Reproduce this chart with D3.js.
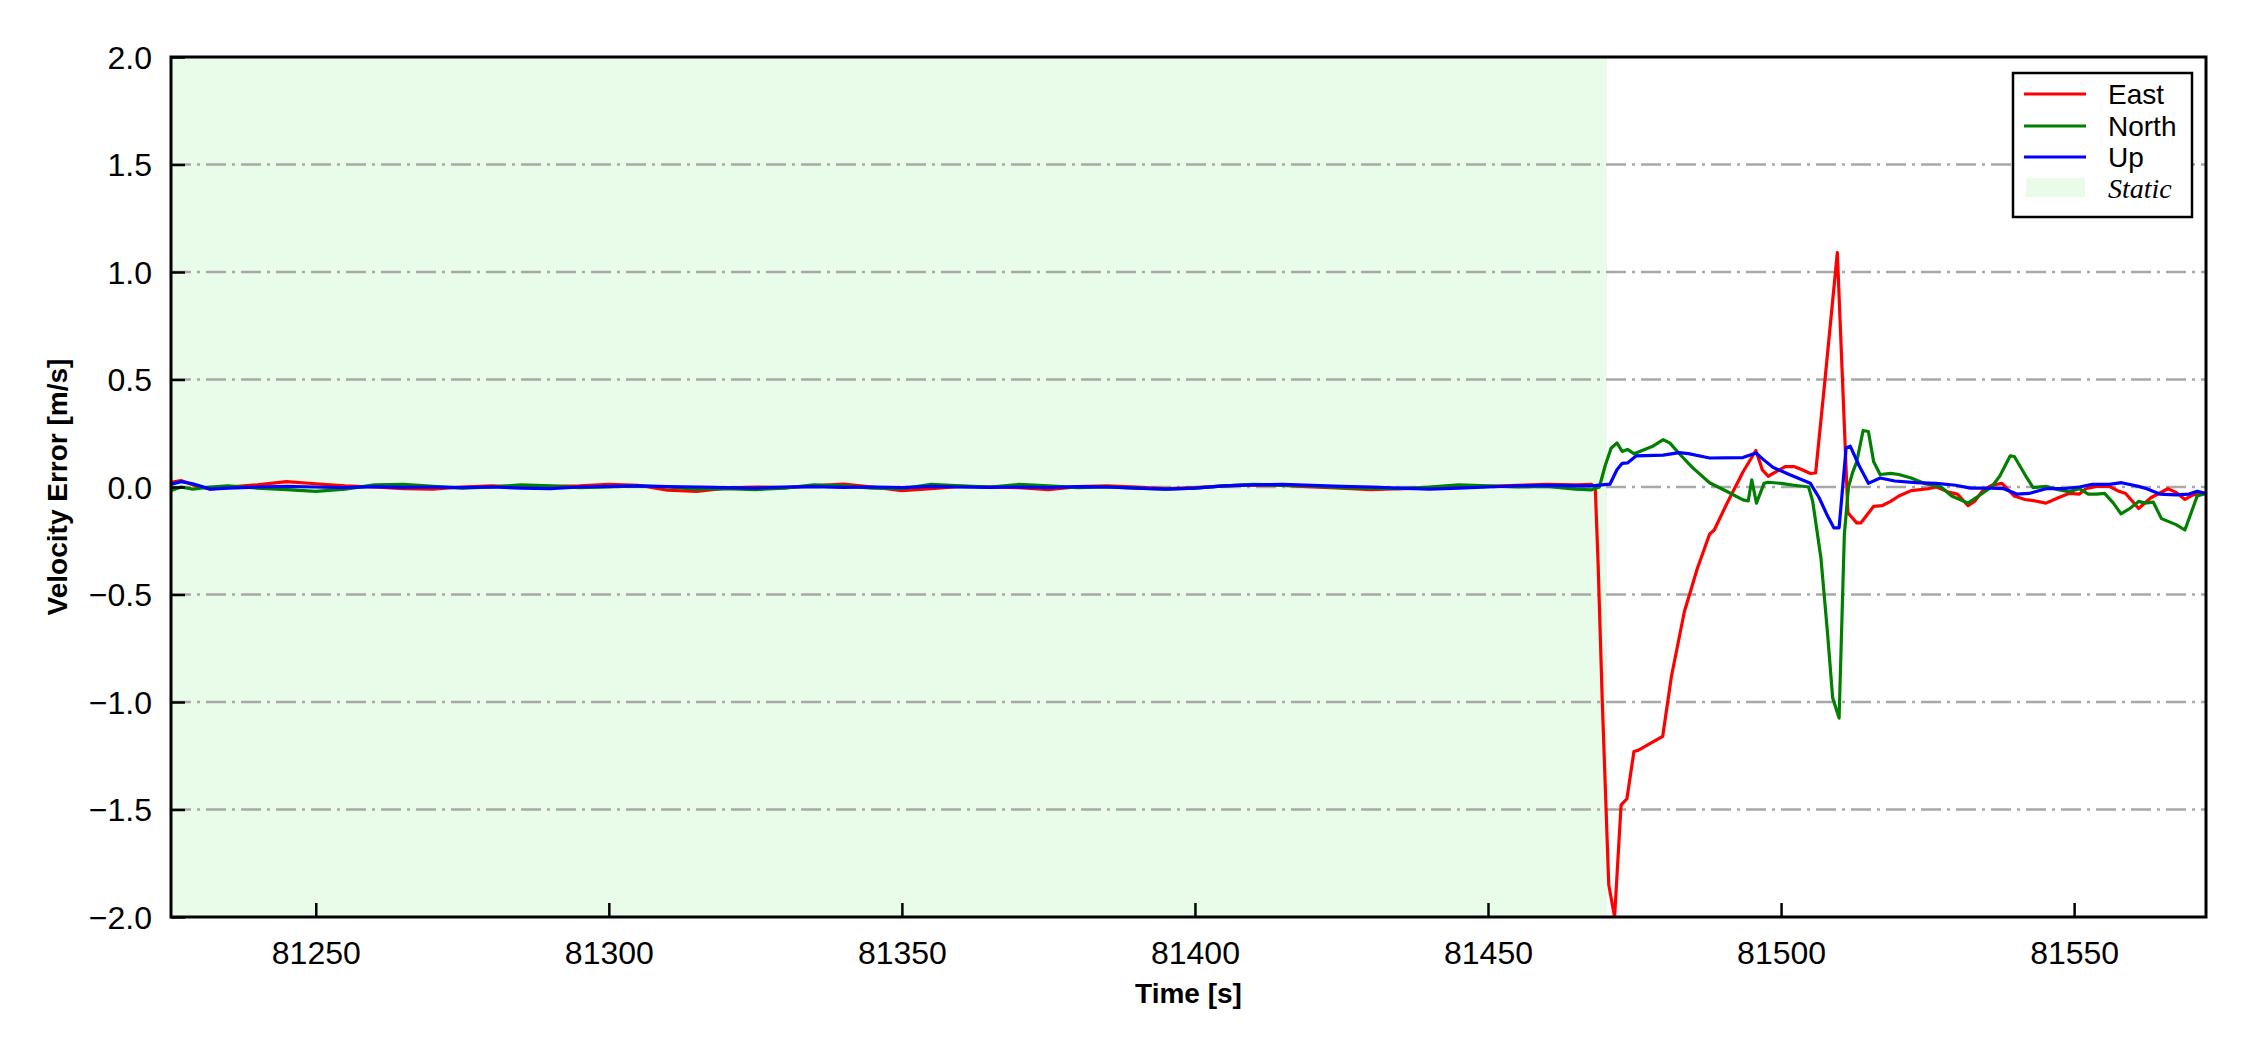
<!DOCTYPE html>
<html>
<head>
<meta charset="utf-8">
<script src="https://cdn.jsdelivr.net/npm/d3@7"></script>
<style>
  html, body { margin: 0; padding: 0; background: #fff; }
  svg { display: block; }
</style>
</head>
<body>
<svg id="chart" width="2250" height="1050"></svg>
<script>
// ---------------- DATA ----------------
const seriesNames = ["East", "North", "Up"];
const seriesColors = ["#ff0000", "#008000", "#0000ff"];
const staticLabel = "Static";
const staticRange = [81225.3, 81470.3];
const xTicks = [81250, 81300, 81350, 81400, 81450, 81500, 81550];
const yTicks = [-2.0, -1.5, -1.0, -0.5, 0.0, 0.5, 1.0, 1.5, 2.0];

// static period (shared time stamps)
const staticTime = [81225, 81227, 81229, 81232, 81235, 81240, 81245, 81250, 81255, 81260, 81265, 81270, 81275, 81280, 81285, 81290, 81295, 81300, 81305, 81310, 81315, 81320, 81325, 81330, 81335, 81340, 81345, 81350, 81355, 81360, 81365, 81370, 81375, 81380, 81385, 81390, 81395, 81400, 81405, 81410, 81415, 81420, 81425, 81430, 81435, 81440, 81445, 81450, 81455, 81460, 81465];
const eastStatic  = [0.02, 0.03, 0.01, -0.01, 0.0, 0.01, 0.025, 0.015, 0.005, 0.0, -0.008, -0.01, 0.0, 0.005, 0.0, 0.003, 0.005, 0.012, 0.008, -0.015, -0.02, -0.005, 0.0, -0.003, 0.005, 0.013, 0.0, -0.017, -0.008, 0.003, 0.0, -0.003, -0.012, 0.002, 0.005, 0.0, -0.008, -0.003, 0.005, 0.01, 0.008, 0.0, -0.005, -0.012, -0.008, -0.005, 0.0, 0.003, 0.008, 0.012, 0.01];
const northStatic = [-0.02, 0.0, -0.01, 0.0, 0.005, -0.005, -0.012, -0.02, -0.01, 0.01, 0.012, 0.003, -0.005, 0.0, 0.01, 0.005, -0.003, 0.0, 0.005, 0.0, -0.01, -0.008, -0.012, -0.005, 0.01, 0.005, -0.005, -0.008, 0.012, 0.005, 0.0, 0.012, 0.005, -0.003, 0.0, -0.005, -0.01, -0.005, 0.005, 0.012, 0.008, 0.005, -0.003, -0.005, -0.008, 0.0, 0.01, 0.005, 0.0, 0.003, -0.01];
const upStatic    = [0.01, 0.025, 0.015, -0.01, -0.005, 0.0, 0.003, 0.0, -0.003, 0.002, -0.002, 0.0, -0.003, 0.0, -0.005, -0.008, 0.0, 0.003, 0.005, 0.002, 0.0, -0.003, -0.005, 0.0, 0.002, -0.002, 0.0, -0.003, 0.003, 0.0, -0.002, 0.0, -0.003, 0.002, 0.0, -0.005, -0.01, -0.005, 0.005, 0.01, 0.012, 0.008, 0.003, 0.0, -0.005, -0.01, -0.005, 0.0, 0.005, 0.008, 0.005];

// dynamic period
const eastTime  = [81467.7, 81468.3, 81468.8, 81469.5, 81470.6, 81471.6, 81472.7, 81473.7, 81474.9, 81475.6, 81479.8, 81481.3, 81483.5, 81485.7, 81487.8, 81488.6, 81490.7, 81493.5, 81495.7, 81496.8, 81497.8, 81500.7, 81502.2, 81503.6, 81505.0, 81505.9, 81507.5, 81509.6, 81511.4, 81512.9, 81513.6, 81515.8, 81517.2, 81518.7, 81520.1, 81522.2, 81525.1, 81526.5, 81528.7, 81530.1, 81531.9, 81533.0, 81534.4, 81535.9, 81537.7, 81539.8, 81541.6, 81543.0, 81545.2, 81547.3, 81549.1, 81550.9, 81552.0, 81553.8, 81556.0, 81557.4, 81558.8, 81561.0, 81563.1, 81566.0, 81567.4, 81568.9, 81570.3, 81572.5];
const eastValue = [0.012, 0.0, -0.37, -1.0, -1.85, -2.0, -1.48, -1.45, -1.23, -1.225, -1.16, -0.88, -0.58, -0.38, -0.22, -0.2, -0.08, 0.07, 0.17, 0.08, 0.05, 0.095, 0.095, 0.08, 0.063, 0.065, 0.5, 1.09, -0.12, -0.167, -0.167, -0.09, -0.087, -0.067, -0.042, -0.017, -0.008, 0.0, -0.025, -0.033, -0.087, -0.067, -0.017, 0.008, 0.017, -0.042, -0.058, -0.063, -0.075, -0.05, -0.03, -0.033, -0.008, 0.003, 0.003, -0.017, -0.03, -0.1, -0.05, -0.008, -0.025, -0.058, -0.037, -0.03];

const northTime  = [81467.7, 81469.0, 81470.0, 81471.0, 81472.0, 81472.9, 81473.8, 81474.9, 81476.3, 81478.0, 81479.9, 81481.0, 81482.8, 81484.9, 81487.8, 81490.7, 81493.5, 81494.4, 81495.0, 81495.8, 81497.1, 81497.8, 81500.0, 81502.2, 81504.7, 81505.4, 81506.8, 81507.9, 81508.8, 81509.9, 81510.8, 81511.5, 81512.2, 81512.9, 81514.0, 81514.9, 81515.8, 81516.9, 81518.7, 81520.1, 81522.2, 81524.4, 81527.3, 81529.1, 81531.9, 81533.7, 81535.9, 81537.3, 81539.1, 81539.8, 81541.6, 81543.0, 81545.2, 81547.3, 81549.1, 81550.9, 81552.4, 81553.8, 81555.2, 81556.7, 81558.0, 81559.5, 81561.0, 81562.1, 81563.5, 81564.9, 81567.4, 81568.9, 81571.0, 81572.5];
const northValue = [-0.013, 0.0, 0.1, 0.18, 0.205, 0.165, 0.175, 0.155, 0.17, 0.188, 0.22, 0.205, 0.15, 0.09, 0.02, -0.02, -0.06, -0.065, 0.033, -0.075, 0.017, 0.022, 0.017, 0.008, 0.0, -0.067, -0.33, -0.67, -0.98, -1.075, -0.22, 0.0, 0.067, 0.117, 0.263, 0.258, 0.117, 0.058, 0.063, 0.058, 0.042, 0.017, 0.0, -0.042, -0.075, -0.042, 0.0, 0.05, 0.145, 0.142, 0.058, -0.003, 0.003, -0.012, -0.022, -0.008, -0.033, -0.033, -0.03, -0.075, -0.125, -0.1, -0.067, -0.075, -0.07, -0.147, -0.175, -0.2, -0.042, -0.03];

const upTime  = [81467.7, 81470.8, 81472.0, 81472.9, 81473.8, 81475.3, 81479.9, 81482.6, 81484.2, 81487.8, 81493.5, 81495.7, 81497.1, 81498.6, 81501.4, 81505.0, 81506.5, 81507.9, 81509.0, 81509.9, 81511.1, 81511.8, 81513.3, 81514.9, 81516.9, 81519.4, 81523.0, 81526.5, 81529.8, 81532.3, 81535.9, 81538.0, 81540.2, 81542.3, 81545.2, 81548.1, 81550.9, 81553.1, 81556.0, 81558.1, 81561.0, 81562.4, 81564.6, 81567.4, 81569.6, 81571.0, 81572.5];
const upValue = [0.005, 0.013, 0.08, 0.11, 0.112, 0.145, 0.148, 0.16, 0.155, 0.135, 0.137, 0.158, 0.125, 0.092, 0.058, 0.017, -0.05, -0.133, -0.19, -0.19, 0.183, 0.19, 0.1, 0.017, 0.042, 0.028, 0.02, 0.017, 0.008, -0.005, -0.005, -0.008, -0.033, -0.03, -0.008, -0.008, 0.0, 0.012, 0.012, 0.02, 0.003, -0.008, -0.033, -0.037, -0.033, -0.02, -0.03];

// ---------------- LAYOUT ----------------
const W = 2250, H = 1050;
const margin = { left: 171, top: 57, right: 44, bottom: 133 };
const pw = W - margin.left - margin.right;   // 2035
const ph = H - margin.top - margin.bottom;   // 860

const svg = d3.select("#chart");
const x = d3.scaleLinear().domain([81225.3, 81572.5]).range([margin.left, margin.left + pw]);
const y = d3.scaleLinear().domain([-2, 2]).range([margin.top + ph, margin.top]);

const zip = (t, v) => t.map((tt, i) => [tt, v[i]]);
const series = [
  zip(staticTime, eastStatic).concat(zip(eastTime, eastValue)),
  zip(staticTime, northStatic).concat(zip(northTime, northValue)),
  zip(staticTime, upStatic).concat(zip(upTime, upValue))
];

svg.append("defs").append("clipPath").attr("id", "plotclip")
  .append("rect").attr("x", margin.left).attr("y", margin.top).attr("width", pw).attr("height", ph);

// static shading
svg.append("rect")
  .attr("x", x(staticRange[0])).attr("y", margin.top)
  .attr("width", x(staticRange[1]) - x(staticRange[0])).attr("height", ph)
  .attr("fill", "#e9fce9");

// grid lines
svg.append("g").selectAll("line").data(yTicks.filter(d => d > -2 && d < 2)).join("line")
  .attr("x1", margin.left).attr("x2", margin.left + pw)
  .attr("y1", d => y(d)).attr("y2", d => y(d))
  .attr("stroke", "#a8a8a8").attr("stroke-width", 2.5)
  .attr("stroke-dasharray", "20,6,3,6");

// data lines
const line = d3.line().x(d => x(d[0])).y(d => y(d[1]));
const lg = svg.append("g").attr("clip-path", "url(#plotclip)");
series.forEach((s, i) => {
  lg.append("path").datum(s).attr("d", line)
    .attr("fill", "none").attr("stroke", seriesColors[i])
    .attr("stroke-width", 3.2).attr("stroke-linejoin", "round");
});

// axes (ticks inward)
const xAxis = d3.axisBottom(x).tickValues(xTicks).tickSize(-14).tickPadding(24).tickFormat(d3.format("d"));
const yAxis = d3.axisLeft(y).tickValues(yTicks).tickSize(-14).tickPadding(19).tickFormat(d3.format(".1f"));

const gx = svg.append("g").attr("transform", `translate(0,${margin.top + ph})`).call(xAxis);
const gy = svg.append("g").attr("transform", `translate(${margin.left},0)`).call(yAxis);
[gx, gy].forEach(g => {
  g.select(".domain").remove();
  g.selectAll(".tick line").attr("stroke", "#000").attr("stroke-width", 2.5);
  g.selectAll(".tick text").attr("fill", "#000")
    .style("font-family", "'Liberation Sans', Arial, sans-serif").style("font-size", "32px");
});
gy.selectAll(".tick text").attr("dy", "0.35em");

// frame
svg.append("rect").attr("x", margin.left).attr("y", margin.top).attr("width", pw).attr("height", ph)
  .attr("fill", "none").attr("stroke", "#000").attr("stroke-width", 3);

// axis titles
svg.append("text").attr("x", margin.left + pw / 2).attr("y", 1003)
  .attr("text-anchor", "middle")
  .style("font-family", "'Liberation Sans', Arial, sans-serif").style("font-size", "28px").style("font-weight", "bold")
  .text("Time [s]");
svg.append("text").attr("transform", `translate(67,${margin.top + ph / 2}) rotate(-90)`)
  .attr("text-anchor", "middle")
  .style("font-family", "'Liberation Sans', Arial, sans-serif").style("font-size", "28px").style("font-weight", "bold")
  .text("Velocity Error [m/s]");

// legend
const leg = svg.append("g");
leg.append("rect").attr("x", 2013).attr("y", 73).attr("width", 179).attr("height", 144)
  .attr("fill", "#fff").attr("stroke", "#000").attr("stroke-width", 2.5);
const rowY = [94, 126, 157, 188];
seriesNames.forEach((n, i) => {
  leg.append("line").attr("x1", 2024).attr("x2", 2086).attr("y1", rowY[i]).attr("y2", rowY[i])
    .attr("stroke", seriesColors[i]).attr("stroke-width", 3.2);
  leg.append("text").attr("x", 2108).attr("y", rowY[i]).attr("dy", "0.35em")
    .style("font-family", "'Liberation Sans', Arial, sans-serif").style("font-size", "28px")
    .text(n);
});
leg.append("rect").attr("x", 2026).attr("y", 178).attr("width", 59).attr("height", 19).attr("fill", "#e9fce9");
leg.append("text").attr("x", 2108).attr("y", rowY[3]).attr("dy", "0.35em")
  .style("font-family", "'Liberation Serif', 'Times New Roman', serif").style("font-size", "28px").style("font-style", "italic")
  .text(staticLabel);
</script>
</body>
</html>
